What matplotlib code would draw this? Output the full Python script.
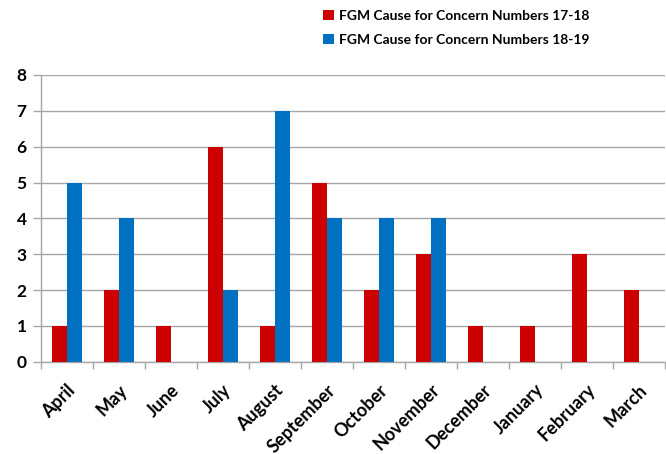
import numpy as np
import matplotlib
matplotlib.use("Agg")
import matplotlib.pyplot as plt
from matplotlib.ticker import FixedLocator

months = ["April", "May", "June", "July", "August", "September", "October",
          "November", "December", "January", "February", "March"]
counts_17_18 = [1, 2, 1, 6, 1, 5, 2, 3, 1, 1, 3, 2]
counts_18_19 = [5, 4, 0, 2, 7, 4, 4, 4, 0, 0, 0, 0]
series_labels = ["FGM Cause for Concern Numbers 17-18",
                 "FGM Cause for Concern Numbers 18-19"]
yticks = [0, 1, 2, 3, 4, 5, 6, 7, 8]

plt.rcParams["font.family"] = ["Lato", "DejaVu Sans"]

RED = "#CC0000"
BLUE = "#0070C0"
GRID = "#A6A6A6"

fig = plt.figure(figsize=(6.66, 4.54), dpi=100)
ax = fig.add_axes([0.061, 0.203, 0.937, 0.632])

x = np.arange(len(months))
w = 0.29
b1 = ax.bar(x - w / 2, counts_17_18, width=w, color=RED, zorder=3,
            label=series_labels[0])
b2 = ax.bar(x + w / 2, counts_18_19, width=w, color=BLUE, zorder=3,
            label=series_labels[1])

ax.set_xlim(-0.5, len(months) - 0.5)
ax.set_ylim(0, 8)
ax.set_yticks(yticks)
ax.set_yticklabels([str(v) for v in yticks], fontsize=12.5, fontweight="bold")
ax.yaxis.grid(True, color=GRID, linewidth=1.0, zorder=0)
ax.tick_params(axis="y", length=6, width=1.0, color=GRID, pad=4)

ax.set_xticks(x)
ax.set_xticklabels(months, rotation=45, ha="right", rotation_mode="anchor",
                   fontsize=13, fontweight="bold")
ax.xaxis.set_minor_locator(FixedLocator(np.arange(-0.5, len(months), 1.0)))
ax.tick_params(axis="x", which="major", length=0, pad=14)
ax.tick_params(axis="x", which="minor", length=5, width=1.0, color=GRID)

for side in ("top", "right"):
    ax.spines[side].set_visible(False)
for side in ("left", "bottom"):
    ax.spines[side].set_color(GRID)
    ax.spines[side].set_linewidth(1.0)

fig.legend(handles=[b1, b2], loc="upper left", bbox_to_anchor=(0.471, 1.0),
           frameon=False, prop={"size": 10, "weight": "bold"},
           handlelength=0.75, handleheight=0.75, handletextpad=0.35,
           labelspacing=0.85, borderaxespad=0.3)

fig.savefig("out.png", dpi=100)
